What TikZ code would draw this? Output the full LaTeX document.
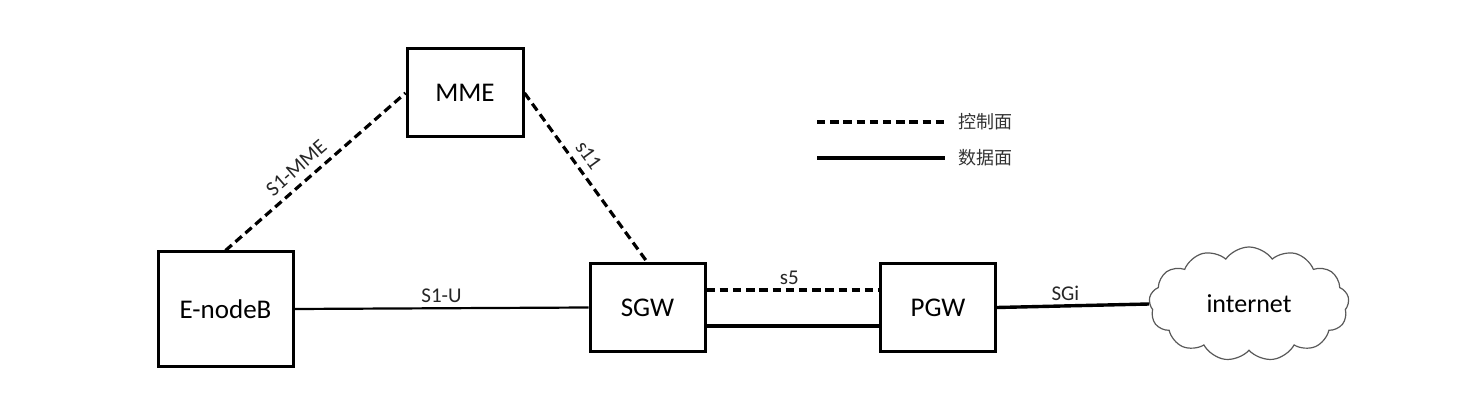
\documentclass[tikz,border=0pt]{standalone}
\usepackage{fontspec}
\setmainfont{Carlito}
\newfontfamily\cjk{Noto Sans CJK SC}
\usetikzlibrary{shapes.symbols}
\begin{document}
\begin{tikzpicture}[x=0.5pt,y=-0.5pt,
  netbox/.style={draw=black,line width=1.5pt,fill=white,font=\fontsize{13.5}{16}\selectfont,inner sep=0pt},
  ctrl/.style={line width=1.6pt,dash pattern=on 4.2pt off 2.4pt},
  data/.style={line width=1.1pt},
  thickdata/.style={line width=1.7pt},
  lbl/.style={font=\fontsize{10.5}{12}\selectfont,text=black!85,inner sep=3.5pt},
  leg/.style={font=\cjk\fontsize{9}{11}\selectfont,text=black!80,anchor=west,inner sep=0pt}]
\useasboundingbox (0,0) rectangle (1462,411);
\node[netbox,minimum width=58pt,minimum height=44pt] (mme) at (465,93) {MME};
\node[netbox,minimum width=67.5pt,minimum height=57pt] (enb) at (225.5,309) {E-nodeB};
\node[netbox,minimum width=57.5pt,minimum height=43.5pt] (sgw) at (647.5,307.5) {SGW};
\node[netbox,minimum width=57.5pt,minimum height=43.5pt] (pgw) at (938,307.5) {PGW};
\node[cloud,draw=black!65,line width=0.6pt,cloud puffs=13,cloud puff arc=110,cloud ignores aspect,minimum width=100pt,minimum height=57pt,font=\fontsize{13}{15}\selectfont,inner sep=0pt] (net) at (1249,304) {internet};
\draw[ctrl] (enb.north) -- node[lbl,sloped,above,pos=0.45] {S1-MME} (mme.west);
\draw[ctrl] (mme.east) -- node[lbl,sloped,above,pos=0.42] {s11} (sgw.north);
\draw[data] (enb.east) -- node[lbl,above,inner sep=2pt] {S1-U} (sgw.west);
\draw[ctrl] ([yshift=8.75pt]sgw.east) -- node[lbl,above,pos=0.48,inner sep=2pt] {s5} ([yshift=8.75pt]pgw.west);
\draw[thickdata] ([yshift=-9.25pt]sgw.east) -- ([yshift=-9.25pt]pgw.west);
\draw[thickdata] (pgw.east) -- node[lbl,above,pos=0.45,inner sep=2pt] {SGi} (net.west);
\coordinate (l1a) at (817,122);
\coordinate (l1b) at (945,122);
\coordinate (l2a) at (817,158);
\coordinate (l2b) at (945,158);
\draw[ctrl] (l1a) -- (l1b);
\draw[thickdata] (l2a) -- (l2b);
\node[leg] (t1) at (958,122) {控制面};
\node[leg] (t2) at (958,158) {数据面};
\end{tikzpicture}
\end{document}
